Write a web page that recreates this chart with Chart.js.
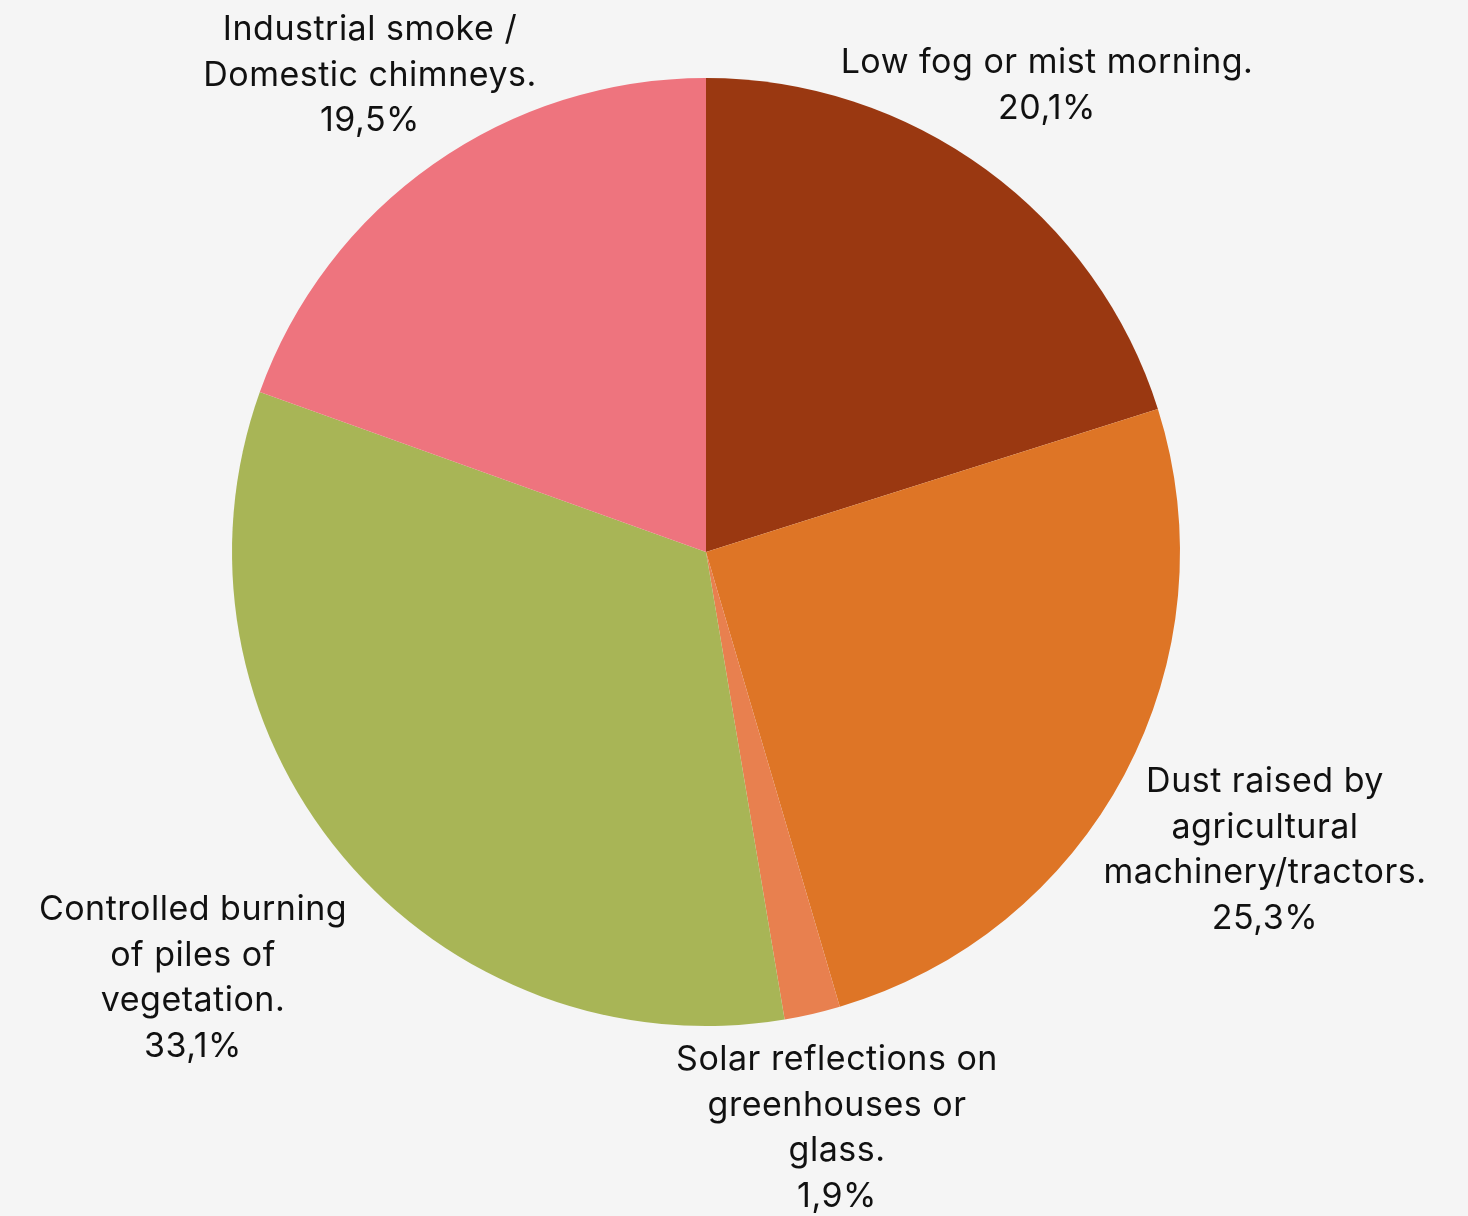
<!DOCTYPE html>
<html>
<head>
<meta charset="utf-8">
<script src="https://cdn.jsdelivr.net/npm/chart.js@4.4.1/dist/chart.umd.min.js"></script>
<style>
  html, body { margin: 0; padding: 0; background: #f5f5f5; }
  #wrap { width: 1468px; height: 1216px; position: relative; }
</style>
</head>
<body>
<div id="wrap"><canvas id="chart"></canvas></div>
<script>
// données
const labels = [
  ['Low fog or mist morning.'],
  ['Dust raised by', 'agricultural', 'machinery/tractors.'],
  ['Solar reflections on', 'greenhouses or', 'glass.'],
  ['Controlled burning', 'of piles of', 'vegetation.'],
  ['Industrial smoke /', 'Domestic chimneys.']
];
const values = [20.1, 25.3, 1.9, 33.1, 19.5];
const colors = ['#9a3811', '#de7526', '#e8804f', '#a8b556', '#ee747e'];

// position des étiquettes (décalage par rapport au centre du camembert)
const labelOffsets = [
  { dx: 341, dy: -489 },
  { dx: 559, dy: 230 },
  { dx: 131, dy: 508 },
  { dx: -513, dy: 358 },
  { dx: -336, dy: -522 }
];

const outsideLabels = {
  id: 'outsideLabels',
  afterDatasetsDraw(chart) {
    const ctx = chart.ctx;
    const meta = chart.getDatasetMeta(0);
    const lineH = 45.5;
    ctx.save();
    ctx.font = '34px Inter, sans-serif';
    ctx.letterSpacing = '0.5px';
    ctx.fillStyle = '#111';
    ctx.textAlign = 'center';
    ctx.textBaseline = 'middle';
    meta.data.forEach((arc, i) => {
      const lines = labels[i].concat([values[i].toFixed(1).replace('.', ',') + '%']);
      const x = arc.x + labelOffsets[i].dx;
      const y0 = arc.y + labelOffsets[i].dy;
      lines.forEach((t, k) => ctx.fillText(t, x, y0 + k * lineH));
    });
    ctx.restore();
  }
};

new Chart(document.getElementById('chart'), {
  type: 'pie',
  data: {
    labels: labels.map(l => l.join(' ')),
    datasets: [{
      data: values,
      backgroundColor: colors,
      borderWidth: 0
    }]
  },
  options: {
    responsive: true,
    maintainAspectRatio: false,
    animation: false,
    layout: { padding: { left: 232, right: 288, top: 78, bottom: 190 } },
    plugins: {
      legend: { display: false },
      tooltip: { enabled: false }
    }
  },
  plugins: [outsideLabels]
});
</script>
</body>
</html>
